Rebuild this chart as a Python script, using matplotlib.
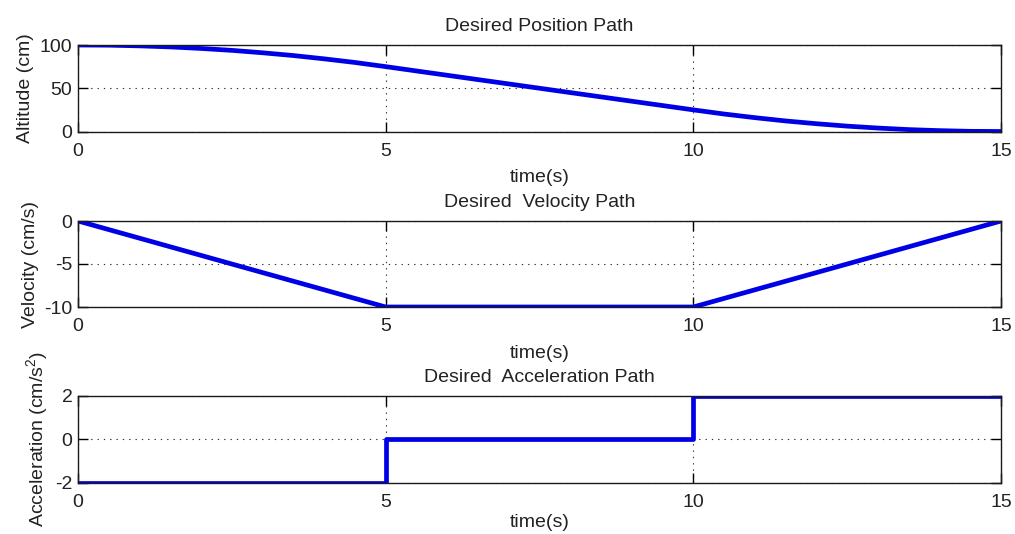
import matplotlib.pyplot as plt

plt.rcParams['font.family'] = ['Liberation Sans', 'DejaVu Sans']
plt.rcParams['font.size'] = 14
plt.rcParams['axes.unicode_minus'] = False
plt.rcParams['mathtext.fontset'] = 'custom'
plt.rcParams['mathtext.rm'] = 'Liberation Sans'
plt.rcParams['mathtext.it'] = 'Liberation Sans:italic'

# position profile (cm) sampled every half second
pos_t = [0, 0.5, 1, 1.5, 2, 2.5, 3, 3.5, 4, 4.5, 5, 5.5, 6, 6.5, 7, 7.5,
         8, 8.5, 9, 9.5, 10, 10.5, 11, 11.5, 12, 12.5, 13, 13.5, 14, 14.5, 15]
pos = [100, 99.8, 99, 97.8, 96, 93.8, 91, 87.8, 84, 79.8, 75, 70, 65, 60, 55, 50,
       45, 40, 35, 30, 25, 20.2, 16, 12.2, 9, 6.2, 4, 2.2, 1, 0.2, 0]

# velocity profile (cm/s): ramp, cruise, ramp
vel_t = [0, 5, 10, 15]
vel = [0, -10, -10, 0]

# acceleration profile (cm/s^2), piecewise constant
acc_t = [0, 5, 10, 15]
acc = [-2, 0, 2, 2]

xticks = [0, 5, 10, 15]
line_color = '#0000e6'
text_color = '#222222'

fig = plt.figure(figsize=(10.15, 5.34), dpi=100)
W, H = 1015.0, 534.0
left, right = 78, 1001
boxes = [(45, 131.5), (221, 307), (396, 482.7)]
axs = [fig.add_axes([left / W, 1 - b / H, (right - left) / W, (b - t) / H])
       for t, b in boxes]


def style(ax, yticks, title, ylabel, xpad=7):
    ax.set_xlim(0, 15)
    ax.set_xticks(xticks)
    ax.set_ylim(yticks[0], yticks[-1])
    ax.set_yticks(yticks)
    ax.tick_params(direction='in', top=True, right=True, length=7, width=1,
                   labelsize=14, labelcolor=text_color)
    ax.tick_params(axis='x', pad=8)
    ax.tick_params(axis='y', pad=4)
    ax.grid(True, color='#303030', linewidth=0.8, linestyle=(0, (1.2, 4.5)))
    for s in ax.spines.values():
        s.set_linewidth(1.0)
        s.set_color('#1a1a1a')
    ax.set_xlabel('time(s)', labelpad=xpad, color=text_color)
    ax.set_ylabel(ylabel, color=text_color)
    ax.set_title(title, fontsize=14, pad=10, color=text_color)


ax = axs[0]
ax.plot(pos_t, pos, color=line_color, linewidth=3.4)
style(ax, [0, 50, 100], 'Desired Position Path', 'Altitude (cm)')

ax = axs[1]
ax.plot(vel_t, vel, color=line_color, linewidth=3.4)
style(ax, [-10, -5, 0], 'Desired  Velocity Path', 'Velocity (cm/s)')

ax = axs[2]
ax.plot(acc_t, acc, color=line_color, linewidth=3.4, drawstyle='steps-post')
style(ax, [-2, 0, 2], 'Desired  Acceleration Path', r'Acceleration (cm/s$^2$)',
      xpad=2.5)

fig.savefig('out.png', dpi=100)
